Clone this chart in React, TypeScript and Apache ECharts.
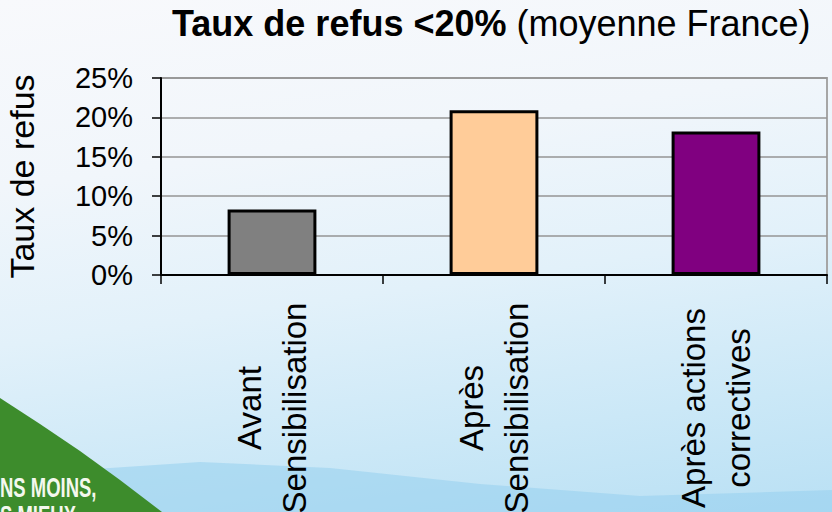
import React, { useEffect, useRef } from "react";
import * as echarts from "echarts";

const categories = ["Avant\nSensibilisation", "Après\nSensibilisation", "Après actions\ncorrectives"];
const values = [0.083, 0.209, 0.182];
const barColors = ["#808080", "#FFCC99", "#800080"];
const yMin = 0;
const yMax = 0.25;
const yStep = 0.05;
const titleBold = "Taux de refus <20%";
const titleNormal = " (moyenne France)";
const yAxisName = "Taux de refus";
const logoLines = ["NS MOINS,", "S MIEUX"];

const FONT = "'Liberation Sans', Arial, sans-serif";

export default function App() {
  const ref = useRef<HTMLDivElement>(null);
  useEffect(() => {
    if (!ref.current) return;
    const chart = echarts.init(ref.current, null, { renderer: "svg" });
    chart.setOption({
      animation: false,
      backgroundColor: "transparent",
      title: {
        text: `{b|${titleBold}}{n|${titleNormal}}`,
        left: 172,
        top: 5,
        padding: 0,
        textStyle: {
          rich: {
            b: { fontFamily: FONT, fontWeight: "bold", fontSize: 36, color: "#000" },
            n: { fontFamily: FONT, fontWeight: "normal", fontSize: 36, color: "#000" },
          },
        },
      },
      graphic: [
        {
          type: "polygon",
          z: -2,
          silent: true,
          shape: {
            points: [
              [80, 470], [200, 462], [330, 468], [480, 484], [640, 496], [832, 490], [832, 512], [120, 512],
            ],
          },
          style: { fill: "rgba(150,208,238,0.55)" },
        },
        {
          type: "polygon",
          z: -1,
          silent: true,
          shape: {
            points: [[0, 398], [40, 424], [80, 451], [120, 480], [162, 512], [0, 512]],
          },
          style: { fill: "#3d8c2c" },
        },
        {
          type: "text",
          z: 0,
          silent: true,
          x: 0,
          y: 474,
          scaleX: 0.66,
          style: {
            text: logoLines.join("\n"),
            fill: "#f4f8ee",
            fontFamily: FONT,
            fontWeight: "bold",
            fontSize: 28,
            lineHeight: 28,
          },
        },
      ],
      grid: {
        left: 161,
        right: 5,
        top: 78,
        bottom: 237,
        show: true,
        borderColor: "#a6a6a6",
        borderWidth: 2,
        backgroundColor: "transparent",
        outerBoundsMode: "none",
        containLabel: false,
      },
      xAxis: {
        type: "category",
        data: categories,
        boundaryGap: true,
        axisLine: { show: true, lineStyle: { color: "#000", width: 2 } },
        axisTick: { show: true, inside: false, length: 9, lineStyle: { color: "#000", width: 1.5 } },
        axisLabel: {
          rotate: 90,
          align: "center",
          margin: 133,
          fontFamily: FONT,
          fontSize: 33,
          lineHeight: 45,
          color: "#000",
          interval: 0,
        },
        splitLine: { show: false },
      },
      yAxis: {
        type: "value",
        min: yMin,
        max: yMax,
        interval: yStep,
        name: yAxisName,
        nameLocation: "middle",
        nameGap: 122,
        nameRotate: 90,
        nameTextStyle: { fontFamily: FONT, fontSize: 34, color: "#000" },
        axisLine: { show: true, lineStyle: { color: "#000", width: 2 } },
        axisTick: { show: true, inside: false, length: 9, lineStyle: { color: "#000", width: 1.5 } },
        axisLabel: {
          margin: 28,
          fontFamily: FONT,
          fontSize: 29,
          color: "#000",
          formatter: (v: number) => `${Math.round(v * 100)}%`,
        },
        splitLine: { show: true, lineStyle: { color: "#959595", width: 1.5 } },
      },
      series: [
        {
          type: "bar",
          data: values.map((v, i) => ({
            value: v,
            itemStyle: { color: barColors[i], borderColor: "#000", borderWidth: 3 },
          })),
          barCategoryGap: "60%",
        },
      ],
    });
    return () => chart.dispose();
  }, []);
  return (
    <div
      style={{
        position: "fixed",
        left: 0,
        top: 0,
        width: 832,
        height: 512,
        background:
          "linear-gradient(172deg, #f8f9fc 0%, #f1f6fb 30%, #e2f1fa 55%, #cbe8f7 80%, #b9e0f4 100%)",
      }}
    >
      <div ref={ref} style={{ width: 832, height: 512 }} />
    </div>
  );
}
